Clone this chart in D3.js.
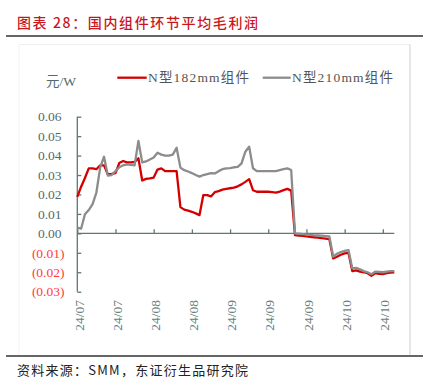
<!DOCTYPE html>
<html><head><meta charset="utf-8">
<script src="https://cdn.jsdelivr.net/npm/d3@7"></script>
<style>
html,body{margin:0;padding:0;background:#fff;}
svg{display:block;}
</style></head>
<body>
<svg id="chart" width="431" height="389"></svg>
<script>
const seriesNames = ["N型182mm组件", "N型210mm组件"];
const xTickLabels = ["24/07","24/07","24/08","24/08","24/09","24/09","24/09","24/10","24/10"];
const yTicks = [-0.03,-0.02,-0.01,0,0.01,0.02,0.03,0.04,0.05,0.06];
const n182 = [0.0188,0.024,0.0285,0.0334,0.0334,0.033,0.035,0.035,0.0303,0.0306,
  0.031,0.0362,0.0372,0.0365,0.0365,0.0367,0.0386,0.0272,0.028,0.0283,
  0.0287,0.0328,0.0334,0.032,0.032,0.032,0.032,0.0135,0.0122,0.0117,
  0.0111,0.0103,0.0094,0.0197,0.0197,0.019,0.0212,0.0217,0.0225,0.0229,
  0.0232,0.0235,0.0242,0.0252,0.0265,0.0279,0.0222,0.0214,0.0214,0.0214,
  0.0214,0.0212,0.021,0.0215,0.0222,0.0229,0.022,-0.0009,-0.0011,-0.0013,
  -0.0016,-0.0018,-0.002,-0.0022,-0.0025,-0.0027,-0.003,-0.0129,-0.012,-0.011,
  -0.0103,-0.010,-0.0194,-0.019,-0.0197,-0.020,-0.0205,-0.0218,-0.0205,-0.0208,
  -0.021,-0.0205,-0.0202,-0.020];
const n210 = [0.0029,0.0024,0.0098,0.012,0.015,0.021,0.034,0.0394,0.0297,0.030,
  0.032,0.034,0.035,0.0355,0.0352,0.035,0.0475,0.0365,0.037,0.038,
  0.039,0.0415,0.0405,0.040,0.040,0.0405,0.044,0.0338,0.0325,0.0318,
  0.031,0.030,0.0292,0.030,0.0305,0.031,0.0308,0.032,0.033,0.0334,
  0.0336,0.034,0.0342,0.036,0.042,0.0446,0.0335,0.032,0.032,0.032,
  0.032,0.032,0.032,0.0325,0.033,0.0334,0.0326,0.0000,-0.0002,-0.0004,
  -0.0006,-0.0008,-0.001,-0.0011,-0.0012,-0.0014,-0.0016,-0.012,-0.0105,-0.0096,
  -0.009,-0.0086,-0.018,-0.0177,-0.0185,-0.0194,-0.020,-0.021,-0.0197,-0.0198,
  -0.020,-0.0197,-0.0194,-0.0194];
const tickEvery = 10;

const svg = d3.select("#chart");
const serif = "'Liberation Serif','Noto Sans CJK SC',serif";
const cjk = "'Noto Sans CJK SC','Liberation Serif',sans-serif";
const axisColor = "#5f7777";

// title
svg.append("text").attr("x",17).attr("y",28)
  .attr("font-family",cjk).attr("font-size",14).attr("font-weight",500)
  .attr("fill","#c8161d").attr("textLength",241).attr("lengthAdjust","spacing")
  .text("图表 28：国内组件环节平均毛利润");
svg.append("line").attr("x1",6).attr("x2",423).attr("y1",36).attr("y2",36)
  .attr("stroke","#333").attr("stroke-width",1.3);
// frame
svg.append("line").attr("x1",19).attr("x2",410).attr("y1",44.5).attr("y2",44.5).attr("stroke","#eeeeee");
svg.append("line").attr("x1",19).attr("x2",19).attr("y1",44.5).attr("y2",355).attr("stroke","#f2f2f2");
svg.append("line").attr("x1",410).attr("x2",410).attr("y1",44.5).attr("y2",355).attr("stroke","#cfcfcf");
svg.append("line").attr("x1",6).attr("x2",423).attr("y1",356).attr("y2",356)
  .attr("stroke","#333").attr("stroke-width",1.3);
svg.append("text").attr("x",17).attr("y",375)
  .attr("font-family",cjk).attr("font-size",13).attr("fill","#222")
  .attr("textLength",231).attr("lengthAdjust","spacing")
  .text("资料来源：SMM，东证衍生品研究院");

const x = d3.scaleLinear().domain([0, n182.length-1]).range([77.3, 394.3]);
const y = d3.scaleLinear().domain([-0.03, 0.06]).range([291.7, 116.7]);

// y axis
const yAxis = d3.axisRight(y).tickValues(yTicks).tickSize(4).tickFormat("");
const gy = svg.append("g").attr("transform","translate(77.3,0)").call(yAxis);
gy.selectAll("path,line").attr("stroke",axisColor).attr("stroke-width",1.3);
gy.select("path").attr("d",`M0,${y(0.06)}V${y(-0.03)}`);
svg.selectAll(".ylab").data(yTicks).enter().append("text")
  .attr("x",d=>d<0?64.5:61.5).attr("y",d=>y(d)).attr("dy","0.35em")
  .attr("text-anchor","end").attr("font-family",serif).attr("font-size",13.5)
  .attr("fill",d=>d<0?"#ff3b3b":"#546a6a")
  .text(d=>d<0?"("+d3.format(".2f")(-d)+")":d3.format(".2f")(d));
svg.append("text").attr("x",46).attr("y",86).attr("font-family",serif)
  .attr("font-size",13.5).attr("fill","#546a6a").text("元/W");

// x axis at zero
const xTickVals = xTickLabels.map((_,i)=>i*tickEvery);
const xAxis = d3.axisTop(x).tickValues(xTickVals).tickSize(4).tickFormat("");
const gx = svg.append("g").attr("transform",`translate(0,${y(0)})`).call(xAxis);
gx.selectAll("path,line").attr("stroke",axisColor).attr("stroke-width",1.3);
gx.select("path").attr("d",`M${x.range()[0]},0H${x.range()[1]}`);
svg.selectAll(".xlab").data(xTickLabels).enter().append("text")
  .attr("transform",(d,i)=>`translate(${x(i*tickEvery)+1.5},300) rotate(-90)`)
  .attr("text-anchor","end").attr("dy","0.35em")
  .attr("font-family",serif).attr("font-size",13.5).attr("fill","#6a8080")
  .text(d=>d);

// lines
const line = d3.line().x((d,i)=>x(i)).y(d=>y(d));
svg.append("path").datum(n182).attr("d",line).attr("fill","none")
  .attr("stroke","#d40000").attr("stroke-width",2.3).attr("stroke-linejoin","round");
svg.append("path").datum(n210).attr("d",line).attr("fill","none")
  .attr("stroke","#8c8c8c").attr("stroke-width",2.3).attr("stroke-linejoin","round");

// legend
const legend = [{name:seriesNames[0],color:"#d40000",x1:117.3,x2:146.7,tx:148,tl:101},
                {name:seriesNames[1],color:"#8c8c8c",x1:262.7,x2:290.7,tx:292,tl:101}];
legend.forEach(l=>{
  svg.append("line").attr("x1",l.x1).attr("x2",l.x2).attr("y1",77.7).attr("y2",77.7)
    .attr("stroke",l.color).attr("stroke-width",2.3);
  svg.append("text").attr("x",l.tx).attr("y",77.7).attr("dy","0.35em")
    .attr("font-family",serif).attr("font-size",13.5).attr("fill","#555")
    .attr("textLength",l.tl).attr("lengthAdjust","spacing").text(l.name);
});
</script>
</body></html>
